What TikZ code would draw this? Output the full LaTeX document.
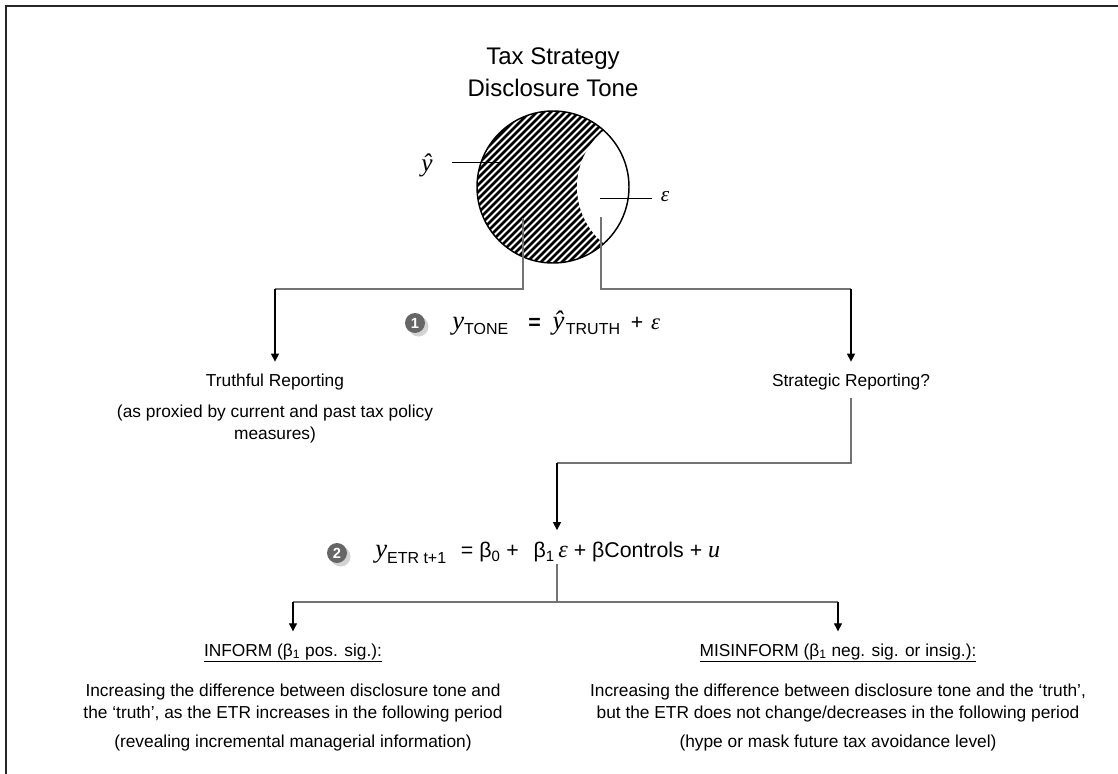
\documentclass[tikz,border=0pt]{standalone}
\usepackage{fontspec}
\setmainfont{Liberation Sans}
\newfontfamily\mathlike{Liberation Serif}
\usetikzlibrary{arrows.meta,shadows}
\newcommand{\eqsub}[1]{\raisebox{-4pt}{\fontsize{12}{12}\selectfont #1}}
\newcommand{\mvar}[2]{{\mathlike\itshape\fontsize{#1}{#1}\selectfont #2}}
\newcommand{\optxt}[1]{{\fontsize{16}{16}\selectfont #1}}
\tikzset{
	link/.style={draw=black!55,line width=0.9pt},
	arr/.style={draw=black,line width=0.8pt,-{Triangle[width=6pt,length=6pt]},shorten >=9pt},
	txt/.style={align=center,inner sep=0pt,font=\fontsize{13}{16.5}\selectfont},
	badge/.style={circle,fill=black!60,text=white,inner sep=0pt,minimum size=15pt,
		font=\fontsize{11}{11}\selectfont\bfseries,drop shadow={opacity=.35}},
	tick/.style={draw=black,line width=0.7pt}
}
\begin{document}
\begin{tikzpicture}[x=0.75pt,y=-0.75pt]
	\useasboundingbox (0,0) rectangle (1118,774);
	\draw[line width=1.1pt,black!85] (6,774) -- (6,6) -- (1118,6);
	\node[txt,font=\fontsize{18}{24}\selectfont] (title) at (553,72) {Tax Strategy\\Disclosure Tone};
	% hatched circle
	\path
	(553,187) coordinate (O)
	(650,187) coordinate (E)
	(500,162) coordinate (yhatpt) (452,162) coordinate (yhatend)
	(600,198) coordinate (epspt) (652,198) coordinate (epsend)
	(523,218) coordinate (stemL)
	(601,217) coordinate (stemR)
	(275,289) coordinate (bendL)
	(851,289) coordinate (bendR)
	(557,463) coordinate (bendS)
	(557,602) coordinate (split)
	(293,602) coordinate (splitL)
	(838,602) coordinate (splitR);
	\begin{scope}
	\clip (O) circle[radius=57pt];
	\foreach \s in {-161,-154,...,161}
	\draw[line width=1.9pt] ({463+\s},277) -- ({643+\s},97);
	\fill[white] (E) circle[radius=54.75pt];
	\end{scope}
	\draw[line width=1.1pt] (O) circle[radius=57pt];
	\node (yhat) at (427,165) {\mvar{19}{ŷ}};
	\node (eps) at (665,197) {\mvar{16}{ε}};
	\draw[tick] (yhatend) -- (yhatpt);
	\draw[tick] (epspt) -- (epsend);
	% equation 1
	\node[badge] (badgeone) at (415,323) {1};
	\node[anchor=west,inner sep=0pt] (eqone) at (452,323) {\mvar{20}{y}\eqsub{TONE}\hspace{15pt}\optxt{\textbf{=}}\hspace{9pt}\mvar{20}{ŷ}\hspace{1pt}\eqsub{TRUTH}\hspace{8pt}\optxt{+}\hspace{6pt}\mvar{17}{ε}};
	\node[txt] (truth) at (275,382) {Truthful Reporting};
	\node[txt] (truthnote) at (275,424) {(as proxied by current and past tax policy\\measures)};
	\node[txt] (strat) at (851,382) {Strategic Reporting?};
	\draw[link] (stemL) |- (bendL);
	\draw[link] (stemR) |- (bendR);
	\draw[arr] (bendL) -- (truth.north);
	\draw[arr] (bendR) -- (strat.north);
	% equation 2
	\node[badge] (badgetwo) at (337,553) {2};
	\node[anchor=west,inner sep=0pt] (eqtwo) at (375,553) {\mvar{20}{y}\eqsub{ETR t+1}\hspace{11pt}\optxt{= β\textsubscript{0} +\hspace{11pt}β\textsubscript{1}\,}\mvar{18}{ε}\optxt{\ + βControls +\ }\mvar{18}{u}};
	\draw[link] ([yshift=-6pt]strat.south) |- (bendS);
	\draw[arr] (bendS) -- (bendS |- eqtwo.north);
	\draw[link] (split |- eqtwo.south) -- (split);
	\draw[link] (splitL) -- (splitR);
	% outcomes
	\node[txt] (inform) at (293,653) {\underline{INFORM (β\textsubscript{1} pos. sig.):}};
	\node[txt] (informtxt) at (293,703) {Increasing the difference between disclosure tone and\\the `truth', as the ETR increases in the following period};
	\node[txt] (informnote) at (293,743) {(revealing incremental managerial information)};
	\node[txt] (misinform) at (838,653) {\underline{MISINFORM (β\textsubscript{1} neg. sig. or insig.):}};
	\node[txt] (misinformtxt) at (838,703) {Increasing the difference between disclosure tone and the `truth',\\but the ETR does not change/decreases in the following period};
	\node[txt] (misinformnote) at (838,743) {(hype or mask future tax avoidance level)};
	\draw[arr] (splitL) -- (inform.north);
	\draw[arr] (splitR) -- (misinform.north);
\end{tikzpicture}
\end{document}
